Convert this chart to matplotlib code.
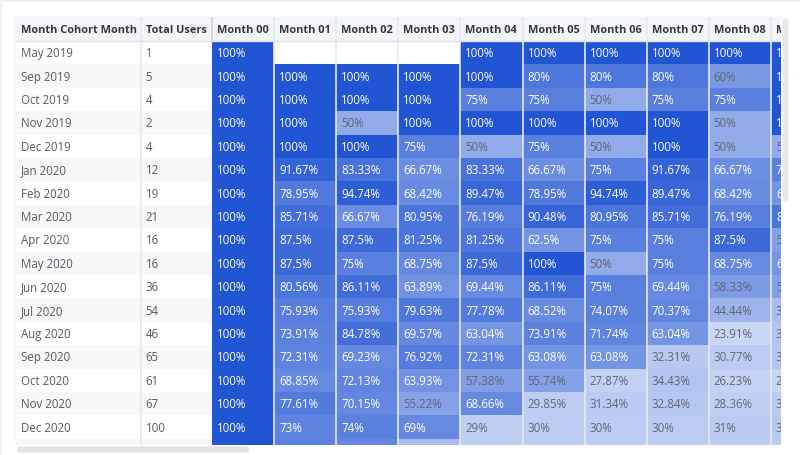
import numpy as np
import matplotlib.pyplot as plt
from matplotlib.patches import Rectangle, FancyBboxPatch

plt.rcParams['font.family'] = ['Open Sans', 'DejaVu Sans']

cohorts = ['May 2019', 'Sep 2019', 'Oct 2019', 'Nov 2019', 'Dec 2019', 'Jan 2020', 'Feb 2020',
           'Mar 2020', 'Apr 2020', 'May 2020', 'Jun 2020', 'Jul 2020', 'Aug 2020', 'Sep 2020',
           'Oct 2020', 'Nov 2020', 'Dec 2020', 'Jan 2021']
total_users = [1, 5, 4, 2, 4, 12, 19, 21, 16, 16, 36, 54, 46, 65, 61, 67, 100, 98]
month_labels = ['Month 00', 'Month 01', 'Month 02', 'Month 03', 'Month 04',
                'Month 05', 'Month 06', 'Month 07', 'Month 08', 'Month 09']

# retention % per month column (None = no data); last row and Month 09 are mostly cut off
m00 = [100, 100, 100, 100, 100, 100, 100, 100, 100, 100, 100, 100, 100, 100, 100, 100, 100, 100]
m01 = [None, 100, 100, 100, 100, 91.67, 78.95, 85.71, 87.5, 87.5, 80.56, 75.93, 73.91, 72.31, 68.85, 77.61, 73, 74]
m02 = [None, 100, 100, 50, 100, 83.33, 94.74, 66.67, 87.5, 75, 86.11, 75.93, 84.78, 69.23, 72.13, 70.15, 74, 70]
m03 = [None, 100, 100, 100, 75, 66.67, 68.42, 80.95, 81.25, 68.75, 63.89, 79.63, 69.57, 76.92, 63.93, 55.22, 69, 40]
m04 = [100, 100, 75, 100, 50, 83.33, 89.47, 76.19, 81.25, 87.5, 69.44, 77.78, 63.04, 72.31, 57.38, 68.66, 29, 30]
m05 = [100, 80, 75, 100, 75, 66.67, 78.95, 90.48, 62.5, 100, 86.11, 68.52, 73.91, 63.08, 55.74, 29.85, 30, 30]
m06 = [100, 80, 50, 100, 50, 75, 94.74, 80.95, 75, 50, 75, 74.07, 71.74, 63.08, 27.87, 31.34, 30, 30]
m07 = [100, 80, 75, 100, 100, 91.67, 89.47, 85.71, 75, 75, 69.44, 70.37, 63.04, 32.31, 34.43, 32.84, 30, 30]
m08 = [100, 60, 75, 50, 50, 66.67, 68.42, 76.19, 87.5, 68.75, 58.33, 44.44, 23.91, 30.77, 26.23, 28.36, 31, 30]
m09 = [100, 100, 100, 100, 50, 75, 63.16, 80.95, 56.25, 62.5, 55.56, 38.89, 34.78, 33.85, 24.59, 31.34, 32, 30]
months = [m00, m01, m02, m03, m04, m05, m06, m07, m08, m09]

# layout in pixels
W, H = 800, 456
left, top = 16, 17.5
head_h = 24.5
row_h = 23.4
widths = [124.5, 71.5] + [62.1] * len(month_labels)
edges = np.concatenate([[left], left + np.cumsum(widths)])
clip_right, clip_bottom = 780.5, 445.5
blue = np.array([34, 85, 212]) / 255

fig = plt.figure(figsize=(W / 100, H / 100), dpi=100)
bg = fig.add_axes([0, 0, 1, 1])
bg.set_xlim(0, W)
bg.set_ylim(H, 0)
bg.axis('off')

# table viewport: everything outside it is scrolled away
ax = fig.add_axes([left / W, 1 - clip_bottom / H, (clip_right - left) / W, (clip_bottom - top) / H])
ax.set_xlim(left, clip_right)
ax.set_ylim(clip_bottom, top)
ax.axis('off')

def cell(x0, y0, w, h, color):
    ax.add_patch(Rectangle((x0, y0), w, h, facecolor=color, edgecolor='none'))

def txt(x, y, s, **kw):
    ax.text(x, y, s, va='center', ha='left', fontsize=8.3, clip_on=True, **kw)

# header
cell(left, top, clip_right - left, head_h, '#f4f5f7')
headers = ['Month Cohort Month', 'Total Users'] + month_labels
for j, name in enumerate(headers):
    ax.text(edges[j] + 5, top + head_h / 2 + 0.3, name, va='center', ha='left', fontsize=7.9,
            color='#333740', fontweight='bold', clip_on=True)

# body
body_top = top + head_h
for i, name in enumerate(cohorts):
    y0 = body_top + i * row_h
    yc = y0 + row_h / 2
    stripe = '#f7f7f8' if i % 2 == 1 else 'white'
    cell(edges[0], y0, edges[2] - edges[0], row_h, stripe)
    txt(edges[0] + 5, yc, name, color='#555a66')
    txt(edges[1] + 5, yc, str(total_users[i]), color='#555a66')
    for j, col in enumerate(months):
        v = col[i]
        x0 = edges[j + 2]
        if v is None:
            cell(x0, y0, widths[j + 2], row_h, 'white')
            continue
        a = v / 100
        rgb = 1 - a * (1 - blue)
        cell(x0, y0, widths[j + 2], row_h, rgb)
        tcol = 'white' if a > 0.61 else '#636775'
        txt(x0 + 5, yc, f'{v:g}%', color=tcol)

# grid lines
for j in range(1, len(edges) - 1):
    if j == 2:
        ax.plot([edges[j], edges[j]], [top, top + head_h], color='#cfd3da', lw=1.2)
    else:
        ax.plot([edges[j], edges[j]], [top, clip_bottom], color='#e6e9ef', lw=1.2)
ax.plot([left, clip_right], [body_top, body_top], color='#dde0e6', lw=1)
bg.plot([left, left], [top, clip_bottom], color='#e6e8ec', lw=1)
bg.plot([left, clip_right], [top, top], color='#e6e8ec', lw=1)

# scrollbars
bg.add_patch(FancyBboxPatch((782.5, 19), 6, 184, boxstyle='round,pad=0,rounding_size=3',
                            facecolor='#e9e9ea', edgecolor='none'))
bg.add_patch(FancyBboxPatch((17, 447.5), 232, 6, boxstyle='round,pad=0,rounding_size=3',
                            facecolor='#e2e2e4', edgecolor='none'))

# card frame
bg.plot([0, W], [0.5, 0.5], color='#ececec', lw=2)
bg.plot([0.5, 0.5], [0, H], color='#f0f0f0', lw=1.5)

fig.savefig('out.png', dpi=100)
